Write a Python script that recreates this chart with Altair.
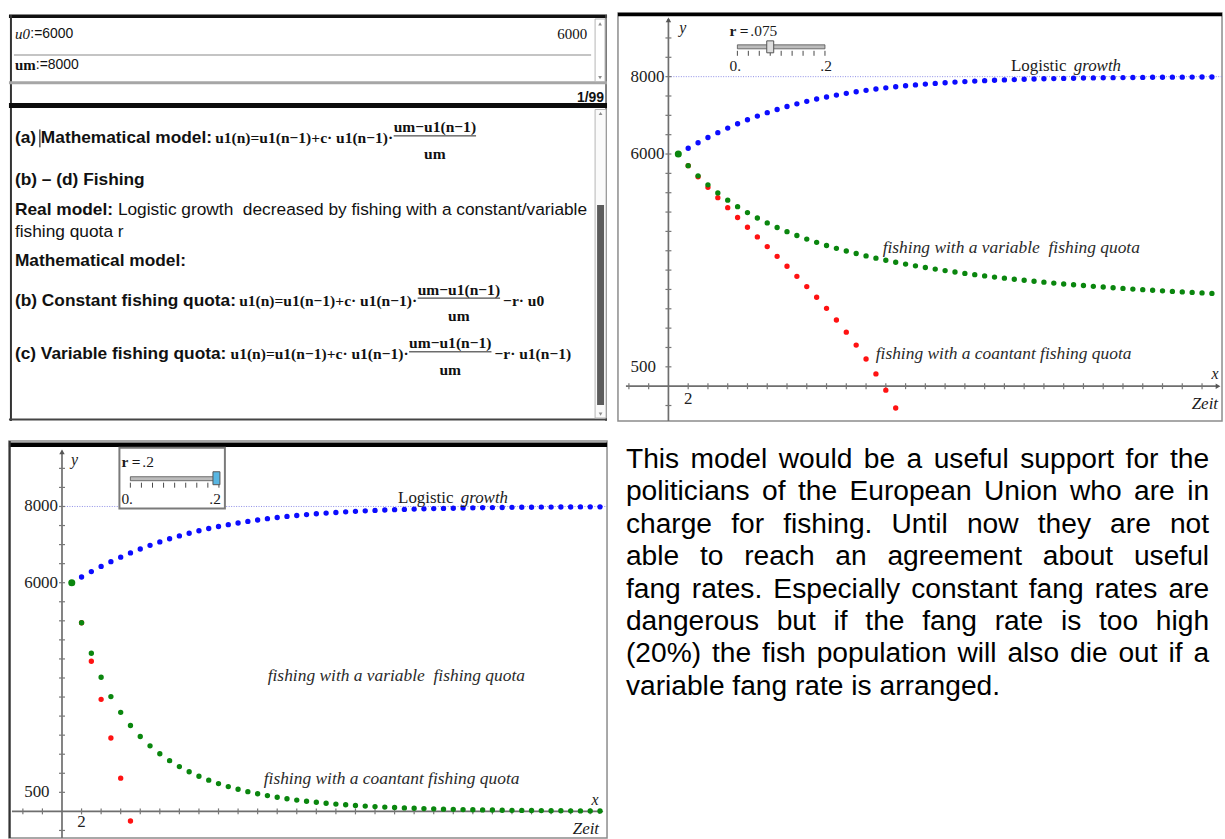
import altair as alt
import pandas as pd

SANS = "Liberation Sans"
SERIF = "Liberation Serif"

# ---------------- values ----------------
n_steps = list(range(1, 56))
logistic_growth = [6000, 6150, 6292, 6427, 6553, 6671, 6782, 6885, 6981, 7070,
                   7152, 7228, 7298, 7362, 7421, 7474, 7523, 7568, 7609, 7646,
                   7680, 7711, 7739, 7764, 7787, 7808, 7826, 7843, 7859, 7873,
                   7885, 7897, 7907, 7916, 7924, 7932, 7939, 7945, 7950, 7955,
                   7960, 7964, 7967, 7971, 7973, 7976, 7979, 7981, 7983, 7984,
                   7986, 7987, 7989, 7990, 7991]
variable_quota_075 = [6000, 5700, 5436, 5203, 4995, 4808, 4639, 4486, 4347, 4219,
                      4102, 3994, 3895, 3802, 3717, 3637, 3563, 3493, 3428, 3367,
                      3309, 3255, 3204, 3156, 3110, 3067, 3026, 2987, 2950, 2915,
                      2882, 2850, 2820, 2791, 2763, 2737, 2712, 2688, 2664, 2642,
                      2621, 2601, 2581, 2562, 2544, 2527, 2510, 2494, 2479, 2464,
                      2450, 2436, 2423, 2410, 2398]
constant_quota_075 = [6000, 5700, 5414, 5139, 4873, 4613, 4359, 4107, 3857, 3607,
                      3355, 3099, 2839, 2573, 2297, 2011, 1711, 1396, 1061, 703,
                      317, -103, -563]
variable_quota_2 = [6000, 4950, 4149, 3519, 3012, 2598, 2253, 1965, 1720, 1511,
                    1331, 1176, 1041, 923, 820, 730, 650, 580, 518, 463,
                    414, 370, 332, 297, 266, 239, 214, 192, 173, 155,
                    139, 125, 112, 101, 91, 81, 73, 66, 59, 53,
                    48, 43, 39, 35, 31, 28, 25, 23, 21, 18,
                    17, 15, 13, 12, 11]
constant_quota_2 = [6000, 4950, 3939, 2939, 1925, 871, -252]

y_tick_labels = [8000, 6000, 500]
x_tick_labels = [2]
slider_values = [".075", ".2"]

top_rows = ["u0", ":=6000", "6000", "um", ":=8000", "1/99"]
note_labels = ["(a) Mathematical model:", "(b) Constant fishing quota:", "(c) Variable fishing quota:"]
note_formula = "u1(n)=u1(n\u22121)+c\u00b7 u1(n\u22121)\u00b7"
note_numerator = "um\u2212u1(n\u22121)"
note_denominator = "um"
note_tails = ["", "\u2212r\u00b7 u0", "\u2212r\u00b7 u1(n\u22121)"]
note_plain = ["(b) \u2013 (d) Fishing", "Real model:",
              "Logistic growth \u00a0decreased by fishing with a constant/variable",
              "fishing quota r", "Mathematical model:"]
curve_labels = ["Logistic", "growth", "fishing with a variable \u00a0fishing quota",
                "fishing with a coantant fishing quota"]
paragraph_lines = [
    "This model would be a useful support for the",
    "politicians of the European Union who are in",
    "charge for fishing. Until now they are not",
    "able to reach an agreement about useful",
    "fang rates. Especially constant fang rates are",
    "dangerous but if the fang rate is too high",
    "(20%) the fish population will also die out if a",
    "variable fang rate is arranged.",
]

# ---------------- text metrics (Helvetica / Times) ----------------
HELV = dict(zip(" !\"#$%&'()*+,-./", [278, 278, 355, 556, 556, 889, 667, 191, 333, 333, 389, 584, 278, 333, 278, 278]))
HELV.update({d: 556 for d in "0123456789"})
HELV.update(dict(zip(":;<=>?", [278, 278, 584, 584, 584, 556])))
HELV.update(dict(zip("ABCDEFGHIJKLMNOPQRSTUVWXYZ",
                     [667, 667, 722, 722, 667, 611, 778, 722, 278, 500, 667, 556, 833, 722, 778, 667, 778, 722, 667, 611, 722, 667, 944, 667, 667, 611])))
HELV.update(dict(zip("abcdefghijklmnopqrstuvwxyz",
                     [556, 556, 500, 556, 556, 278, 556, 556, 222, 222, 500, 222, 833, 556, 556, 556, 556, 333, 500, 278, 556, 500, 722, 500, 500, 500])))
HELVB = dict(zip(" ()-./:\u2013", [278, 333, 333, 333, 278, 278, 333, 556]))
HELVB.update({d: 556 for d in "0123456789"})
HELVB.update(dict(zip("ABCDEFGHIJKLMNOPQRSTUVWXYZ",
                      [722, 722, 722, 722, 667, 611, 778, 722, 278, 556, 722, 611, 833, 722, 778, 667, 778, 722, 667, 611, 722, 667, 944, 667, 667, 611])))
HELVB.update(dict(zip("abcdefghijklmnopqrstuvwxyz",
                      [556, 611, 556, 611, 556, 333, 611, 611, 278, 278, 556, 278, 889, 611, 611, 611, 611, 389, 556, 333, 611, 556, 778, 556, 556, 500])))
TIMESB = {'u': 556, '1': 500, '(': 333, ')': 333, 'n': 556, '=': 570, '\u2212': 570, '+': 570,
          'c': 444, '\u00b7': 250, ' ': 250, 'm': 833, 'r': 444, '0': 500}


def tw(s, table, size):
    return sum(table.get(ch, 556) for ch in s) * size / 1000.0


NS = 17.4   # notes sans size
MS = 15.6   # notes math size
STY = {
    'sansB': dict(font=SANS, fontSize=NS, fontWeight='bold'),
    'sans': dict(font=SANS, fontSize=NS),
    'serifB': dict(font=SERIF, fontSize=MS, fontWeight='bold'),
    'serifI15': dict(font=SERIF, fontSize=15, fontStyle='italic'),
    'serif15': dict(font=SERIF, fontSize=15),
    'serifB15': dict(font=SERIF, fontSize=15, fontWeight='bold'),
    'sans14': dict(font=SANS, fontSize=14),
    'sansB14': dict(font=SANS, fontSize=14, fontWeight='bold'),
}

PX = dict(scale=None, axis=None)


def text_layers(items, ox, oy, baseline='middle'):
    df = pd.DataFrame(items, columns=['t', 'x', 'y', 's', 'a'])
    df['x'] = df['x'] - ox
    df['y'] = df['y'] - oy
    out = []
    for (s, a), g in df.groupby(['s', 'a']):
        out.append(alt.Chart(g[['t', 'x', 'y']]).mark_text(baseline=baseline, align=a, color='#111', **STY[s]).encode(
            x=alt.X('x:Q', **PX), y=alt.Y('y:Q', **PX), text='t:N'))
    return out


def rule_layer(rules, ox, oy):
    df = pd.DataFrame(rules, columns=['x1', 'x2', 'y1', 'y2', 'c', 'w'])
    df['x1'] -= ox; df['x2'] -= ox; df['y1'] -= oy; df['y2'] -= oy
    return alt.Chart(df).mark_rule(strokeCap='butt').encode(
        x=alt.X('x1:Q', **PX), x2='x2:Q', y=alt.Y('y1:Q', **PX), y2='y2:Q',
        color=alt.Color('c:N', scale=None), strokeWidth=alt.StrokeWidth('w:Q', scale=None))


def rect_layer(rects, ox, oy, **mk):
    df = pd.DataFrame(rects, columns=['x1', 'x2', 'y1', 'y2', 'c'])
    df['x1'] -= ox; df['x2'] -= ox; df['y1'] -= oy; df['y2'] -= oy
    return alt.Chart(df).mark_rect(**mk).encode(
        x=alt.X('x1:Q', **PX), x2='x2:Q', y=alt.Y('y1:Q', **PX), y2='y2:Q',
        color=alt.Color('c:N', scale=None))


def tri_layer(pts, ox, oy, shape):
    df = pd.DataFrame(pts, columns=['x', 'y'])
    df['x'] -= ox; df['y'] -= oy
    return alt.Chart(df).mark_point(shape=shape, filled=True, size=14, color='#8c8c8c', opacity=1).encode(
        x=alt.X('x:Q', **PX), y=alt.Y('y:Q', **PX))


# ================= panel A : notes =================
A_OX, A_OY, A_W, A_H = 6, 10, 601, 410
a_text = [
    (top_rows[0], 12, 31, 'serifI15', 'left'),
    (top_rows[1], 27.5, 31, 'sans14', 'left'),
    (top_rows[2], 587, 31, 'serif15', 'right'),
    (top_rows[3], 12, 62, 'serifB15', 'left'),
    (top_rows[4], 33, 62, 'sans14', 'left'),
    (top_rows[5], 604, 95, 'sansB14', 'right'),
    (note_plain[0], 12, 178, 'sansB', 'left'),
    (note_plain[1], 12, 208, 'sansB', 'left'),
    (note_plain[2], 12 + tw(note_plain[1] + " ", HELVB, NS), 208, 'sans', 'left'),
    (note_plain[3], 12, 230, 'sans', 'left'),
    (note_plain[4], 12, 259, 'sansB', 'left'),
]
a_rules = [
    (6, 607, 13.3, 13.3, '#111', 3.5),
    (8, 8, 12, 420, '#333', 2),
    (606, 606, 12, 420, '#555', 1.5),
    (11, 591, 52.3, 52.3, '#c4c4c4', 2),
    (6, 607, 80, 80, '#a6a6a6', 3),
    (6, 607, 103, 103, '#0c0c0c', 5),
    (6, 607, 418.5, 418.5, '#444', 2),
    (12 + tw("(a) ", HELVB, NS) - 1, 12 + tw("(a) ", HELVB, NS) - 1, 127, 145, '#000', 1),
]
for label, yc, tail in zip(note_labels, [136, 299, 353], note_tails):
    a_text.append((label, 12, yc, 'sansB', 'left'))
    x = 12 + tw(label, HELVB, NS) + 3
    a_text.append((note_formula, x, yc, 'serifB', 'left'))
    x += tw(note_formula, TIMESB, MS) + 3
    nw = tw(note_numerator, TIMESB, MS)
    a_text.append((note_numerator, x + nw / 2, yc - 11, 'serifB', 'center'))
    a_text.append((note_denominator, x + nw / 2, yc + 16, 'serifB', 'center'))
    a_rules.append((x, x + nw, yc - 2.5, yc - 2.5, '#222', 1))
    if tail:
        a_text.append((tail, x + nw + 3, yc, 'serifB', 'left'))

a_layers = [rule_layer(a_rules, A_OX, A_OY)]
a_layers.append(rect_layer([(595, 605, 16, 79, '#ffffff'), (595, 606, 107, 417, '#fafafa')], A_OX, A_OY,
                           stroke='#b4b4b4', strokeWidth=1))
a_layers.append(rect_layer([(597, 604, 203, 404, '#5c5c5c')], A_OX, A_OY))
a_layers.append(tri_layer([(600, 21), (600.5, 111)], A_OX, A_OY, 'triangle-up'))
a_layers.append(tri_layer([(600, 75), (600.5, 413)], A_OX, A_OY, 'triangle-down'))
a_layers += text_layers(a_text, A_OX, A_OY)
panel_a = alt.layer(*a_layers).properties(width=A_W, height=A_H)


# ================= graph panels =================
def graph(W, H, ox, oy, ax0, unit, ay0, ppu, var_vals, con_vals, cfg):
    px2x = lambda a: (a - ax0) / unit
    px2y = lambda a: (ay0 - a) / ppu
    xs = alt.Scale(domain=[px2x(ox), px2x(ox + W)], nice=False, zero=False)
    ys = alt.Scale(domain=[px2y(oy + H), px2y(oy)], nice=False, zero=False)
    X = lambda f: alt.X(f, type='quantitative', scale=xs, axis=None)
    Y = lambda f: alt.Y(f, type='quantitative', scale=ys, axis=None)
    L = []

    def drule(x1, x2, y1, y2, **mk):
        d = pd.DataFrame({'x1': [x1], 'x2': [x2], 'y1': [y1], 'y2': [y2]})
        L.append(alt.Chart(d).mark_rule(**mk).encode(x=X('x1'), x2='x2', y=Y('y1'), y2='y2'))

    def prect(x1, x2, y1, y2, **mk):
        d = pd.DataFrame({'x1': [px2x(x1)], 'x2': [px2x(x2)], 'y1': [px2y(y1)], 'y2': [px2y(y2)]})
        L.append(alt.Chart(d).mark_rect(**mk).encode(x=X('x1'), x2='x2', y=Y('y1'), y2='y2'))

    def ptext(x, y, t, **mk):
        base = dict(baseline='middle', align='left', font=SERIF, fontSize=16, color='#1a1a1a')
        base.update(mk)
        d = pd.DataFrame({'x': [px2x(x)], 'y': [px2y(y)], 't': [t]})
        L.append(alt.Chart(d).mark_text(**base).encode(x=X('x'), y=Y('y'), text='t:N'))

    # frame top bar
    L.append(alt.Chart(pd.DataFrame({'a': [0]})).mark_rule(color='#000', strokeWidth=cfg['bar_w']).encode(
        x=alt.value(0), x2=alt.value(W), y=alt.value(cfg['bar_y'])))
    if cfg.get('left_dark'):
        L.append(alt.Chart(pd.DataFrame({'a': [0]})).mark_rule(color='#333', strokeWidth=2).encode(
            x=alt.value(0.8), y=alt.value(0), y2=alt.value(H)))
    # asymptote 8000
    drule(0, px2x(ox + W), 8000, 8000, color='#8e8ee6', strokeWidth=1, strokeDash=[1, 1.5])
    # axes
    drule(px2x(cfg['xaxis'][0]), px2x(cfg['xaxis'][1]), 0, 0, color='#6e6e6e', strokeWidth=1.7)
    drule(0, 0, px2y(oy + H), px2y(cfg['ytop']), color='#6e6e6e', strokeWidth=1.7)
    xt = [v for v in range(-4, 55, 2) if v != 0]
    yt = [v for v in range(-500, 9001, 500) if v != 0]
    L.append(alt.Chart(pd.DataFrame({'t': xt, 'z': 0})).mark_tick(
        orient='vertical', size=6, thickness=1.2, color='#777', opacity=1).encode(x=X('t'), y=Y('z')))
    L.append(alt.Chart(pd.DataFrame({'t': yt, 'z': 0})).mark_tick(
        orient='horizontal', size=6, thickness=1.2, color='#777', opacity=1).encode(x=X('z'), y=Y('t')))
    L.append(alt.Chart(pd.DataFrame({'x': [0], 'y': [px2y(cfg['ytop'] + 1)]})).mark_point(
        shape='triangle-up', filled=True, size=30, color='#555', opacity=1).encode(x=X('x'), y=Y('y')))
    L.append(alt.Chart(pd.DataFrame({'x': [px2x(cfg['xaxis'][1])], 'y': [0]})).mark_point(
        shape='triangle-right', filled=True, size=30, color='#555', opacity=1).encode(x=X('x'), y=Y('y')))
    # tick labels
    L.append(alt.Chart(pd.DataFrame({'v': y_tick_labels, 'z': px2x(ax0 - 38)})).mark_text(
        align='left', baseline='middle', font=SERIF, fontSize=17, color='#222').encode(
        x=X('z'), y=Y('v'), text='v:N'))
    L.append(alt.Chart(pd.DataFrame({'v': x_tick_labels, 'z': px2y(cfg['xlab_y'])})).mark_text(
        align='center', baseline='middle', font=SERIF, fontSize=17, color='#222').encode(
        x=X('v'), y=Y('z'), text='v:N'))
    ptext(*cfg['y_lab'], 'y', align='center', fontStyle='italic')
    ptext(*cfg['x_lab'], 'x', align='center', fontStyle='italic')
    ptext(*cfg['zeit'], 'Zeit', align='right', fontStyle='italic', fontSize=17)

    # data points
    dfl = pd.DataFrame({'n': n_steps, 'u': logistic_growth})
    dfc = pd.DataFrame({'n': n_steps[:len(con_vals)], 'u': con_vals})
    dfv = pd.DataFrame({'n': n_steps, 'u': var_vals})
    L.append(alt.Chart(dfl).mark_circle(size=29, opacity=1, color='#0c0cff').encode(x=X('n'), y=Y('u')))
    L.append(alt.Chart(dfc).mark_circle(size=29, opacity=1, color='#ff1212').encode(x=X('n'), y=Y('u')))
    L.append(alt.Chart(dfv).mark_circle(opacity=1, color='#0a860e').encode(
        x=X('n'), y=Y('u'), size=alt.condition('datum.n == 1', alt.value(50), alt.value(29))))

    # curve annotations
    lx, ly = cfg['logistic']
    ptext(lx, ly, curve_labels[0], fontSize=17)
    ptext(lx + 63, ly, curve_labels[1], fontSize=17, fontStyle='italic')
    ptext(*cfg['var_lab'], curve_labels[2], fontSize=17.5, fontStyle='italic', color='#2a2a2a')
    ptext(*cfg['con_lab'], curve_labels[3], fontSize=17.5, fontStyle='italic', color='#2a2a2a')

    # slider widget
    s = cfg['slider']
    if s.get('box'):
        bx1, bx2, by1, by2 = s['box']
        prect(bx1, bx2, by1, by2, fill='#ffffff', stroke='#7a7a7a', strokeWidth=2)
    tx1, tx2, ty = s['track']
    prect(tx1, tx2, ty - 2, ty + 2, fill='#bcbcbc', stroke='#505050', strokeWidth=0.8)
    tick_x = [px2x(tx1 + k * (tx2 - tx1) / 8) for k in range(9)]
    L.append(alt.Chart(pd.DataFrame({'x': tick_x, 'y1': px2y(s['ticks'][0]), 'y2': px2y(s['ticks'][1])})).mark_rule(
        color='#4a4a4a', strokeWidth=1).encode(x=X('x'), y=Y('y1'), y2='y2'))
    th = s['thumb']
    prect(th[0] - 3.5, th[0] + 3.5, th[1], th[2], fill=th[3], stroke='#555', strokeWidth=1)
    ptext(s['r'][0], s['r'][1], 'r =', fontSize=15.5, fontWeight='bold')
    ptext(s['val'][0], s['val'][1], s['text'], fontSize=15.5)
    ptext(s['l0'][0], s['l0'][1], '0.', fontSize=15.5)
    ptext(s['l2'][0], s['l2'][1], '.2', fontSize=15.5, align='right')

    return alt.layer(*L).properties(
        width=W, height=H, view=alt.ViewBackground(stroke='#8c8c8c', strokeWidth=1.5))


cfg_b = dict(
    bar_y=1.5, bar_w=3.5,
    xaxis=(626, 1221), ytop=16, xlab_y=398,
    y_lab=(683, 25), x_lab=(1218, 373), zeit=(1221, 403),
    logistic=(1013, 63), var_lab=(884, 246), con_lab=(877, 353),
    slider=dict(track=(738, 826, 44), ticks=(48, 53), thumb=(771, 38, 50, '#dedede'),
                r=(730, 28), val=(751, 28), text=slider_values[0], l0=(730, 63), l2=(833, 63)),
)
cfg_c = dict(
    bar_y=3.9, bar_w=4.5, left_dark=True,
    xaxis=(9, 601), ytop=450, xlab_y=823,
    y_lab=(72, 459), x_lab=(595, 801), zeit=(599, 830),
    logistic=(397, 497), var_lab=(266, 676), con_lab=(262, 780),
    slider=dict(box=(117, 223, 447, 508), track=(128, 217, 478), ticks=(482, 487),
                thumb=(214.5, 471, 484, '#58b6e2'),
                r=(119, 461), val=(140, 461), text=slider_values[1], l0=(119, 498), l2=(219, 498)),
)

panel_b = graph(607, 410, 618, 10, 668.7, 9.93, 385.0, 0.03888, variable_quota_075, constant_quota_075, cfg_b)
panel_c = graph(601, 399, 6, 440, 59.3, 9.83, 812.3, 0.0383, variable_quota_2, constant_quota_2, cfg_c)

# ================= panel D : paragraph =================
D_OX, D_OY = 618, 440
P_FS = 28.3
P_LEFT, P_RIGHT = 626, 1212
P_BASE0, P_STEP = 467, 32.6
d_rows = []
for i, line in enumerate(paragraph_lines):
    words = line.split(' ')
    ws = [tw(w, HELV, P_FS) for w in words]
    if i < len(paragraph_lines) - 1:
        gap = (P_RIGHT - P_LEFT - sum(ws)) / (len(words) - 1)
    else:
        gap = HELV[' '] * P_FS / 1000.0
    x = P_LEFT
    for w, wd in zip(words, ws):
        d_rows.append({'t': w, 'x': x - D_OX, 'y': P_BASE0 + i * P_STEP - D_OY})
        x += wd + gap
panel_d = alt.Chart(pd.DataFrame(d_rows)).mark_text(
    font=SANS, fontSize=P_FS, align='left', baseline='alphabetic', color='#000').encode(
    x=alt.X('x:Q', **PX), y=alt.Y('y:Q', **PX), text='t:N').properties(width=607, height=399)

chart = alt.concat(
    panel_a, panel_b, panel_c, panel_d,
    columns=2, spacing={'row': 20, 'column': 11}, bounds='flush',
).properties(
    padding={'left': 6, 'top': 10, 'right': 0, 'bottom': 0}, background='#ffffff'
).configure_view(stroke=None)

chart.save("out.html", embed_options={"renderer": "svg", "actions": False})
